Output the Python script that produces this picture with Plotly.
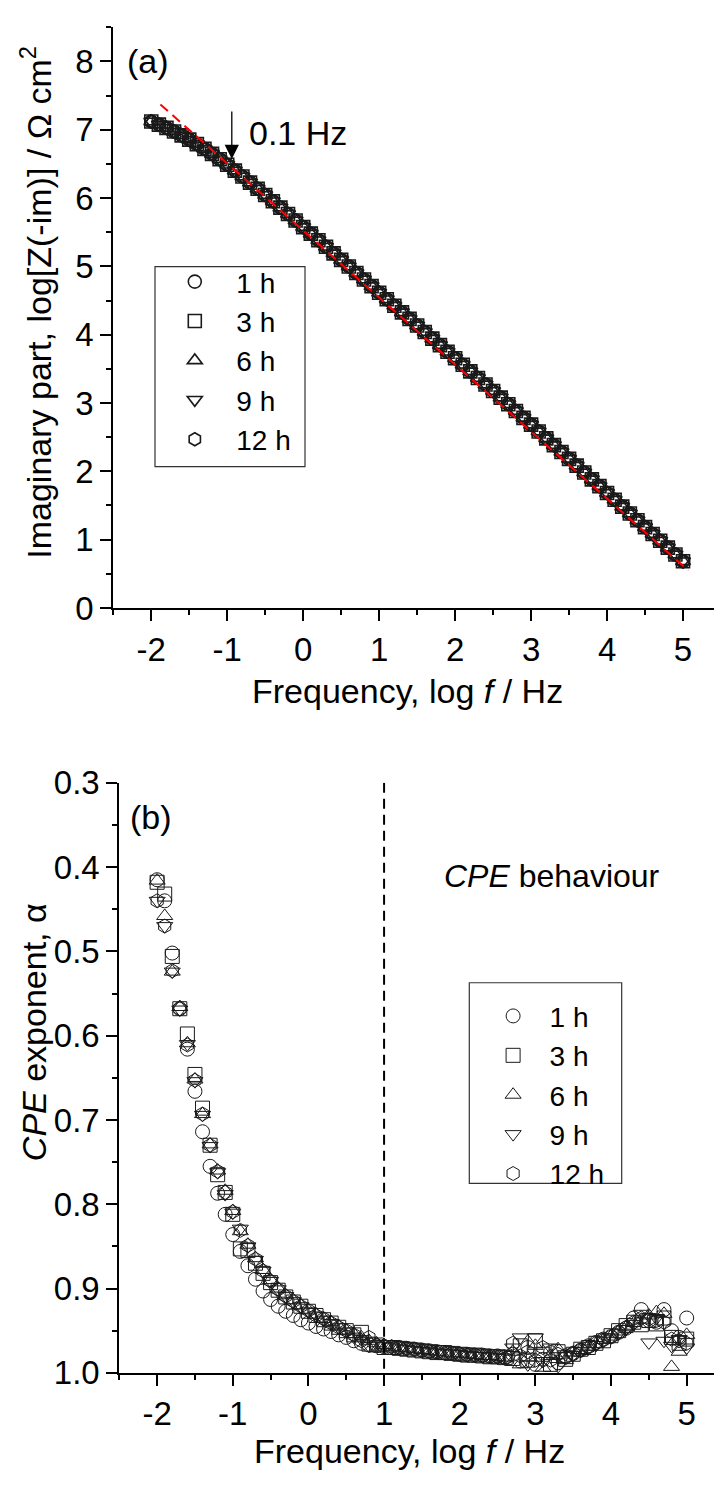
import plotly.graph_objects as go

W, H = 714, 1490

# ---------------- data ----------------
log_f = [-2.0, -1.9, -1.8, -1.7, -1.6, -1.5, -1.4, -1.3, -1.2, -1.1,
         -1.0, -0.9, -0.8, -0.7, -0.6, -0.5, -0.4, -0.3, -0.2, -0.1,
         0.0, 0.1, 0.2, 0.3, 0.4, 0.5, 0.6, 0.7, 0.8, 0.9,
         1.0, 1.1, 1.2, 1.3, 1.4, 1.5, 1.6, 1.7, 1.8, 1.9,
         2.0, 2.1, 2.2, 2.3, 2.4, 2.5, 2.6, 2.7, 2.8, 2.9,
         3.0, 3.1, 3.2, 3.3, 3.4, 3.5, 3.6, 3.7, 3.8, 3.9,
         4.0, 4.1, 4.2, 4.3, 4.4, 4.5, 4.6, 4.7, 4.8, 4.9, 5.0]

series_names = ["1 h", "3 h", "6 h", "9 h", "12 h"]

# panel (a): log|Z_im| (the five immersion times overlap)
log_zim_1h = [7.12, 7.075, 7.027, 6.974, 6.917, 6.856, 6.79, 6.72, 6.646, 6.568,
              6.487, 6.402, 6.315, 6.226, 6.136, 6.045, 5.953, 5.86, 5.766, 5.671,
              5.575, 5.479, 5.383, 5.287, 5.191, 5.095, 4.999, 4.903, 4.807, 4.711,
              4.615, 4.519, 4.423, 4.327, 4.231, 4.135, 4.039, 3.943, 3.847, 3.751,
              3.655, 3.559, 3.463, 3.367, 3.271, 3.175, 3.079, 2.983, 2.883, 2.783,
              2.683, 2.583, 2.483, 2.383, 2.283, 2.183, 2.083, 1.983, 1.883, 1.783,
              1.683, 1.583, 1.483, 1.383, 1.283, 1.183, 1.083, 0.983, 0.883, 0.783, 0.683]
log_zim_3h = list(log_zim_1h)
log_zim_6h = list(log_zim_1h)
log_zim_9h = list(log_zim_1h)
log_zim_12h = list(log_zim_1h)

# linear fit (red dashed) end points
fit_x = [-1.88, 5.07]
fit_y = [7.37, 0.55]

# panel (b): CPE exponent alpha
alpha_1h = [0.415, 0.440, 0.502, 0.568, 0.616, 0.666, 0.714, 0.755, 0.787, 0.812,
            0.836, 0.856, 0.873, 0.889, 0.903, 0.913, 0.921, 0.927, 0.932, 0.937,
            0.941, 0.945, 0.948, 0.951, 0.955, 0.958, 0.962, 0.965, 0.967, 0.968,
            0.969, 0.970, 0.970, 0.971, 0.972, 0.973, 0.974, 0.975, 0.976, 0.977,
            0.978, 0.978, 0.979, 0.979, 0.980, 0.980, 0.981, 0.978, 0.986, 0.970,
            0.990, 0.984, 0.976, 0.988, 0.980, 0.977, 0.973, 0.968, 0.964, 0.960,
            0.957, 0.952, 0.947, 0.935, 0.925, 0.938, 0.940, 0.925, 0.950, 0.958, 0.935]
alpha_3h = [0.418, 0.432, 0.506, 0.568, 0.598, 0.646, 0.686, 0.730, 0.765, 0.786,
            0.812, 0.853, 0.855, 0.870, 0.882, 0.893, 0.902, 0.910, 0.916, 0.921,
            0.927, 0.932, 0.937, 0.941, 0.946, 0.950, 0.955, 0.952, 0.966, 0.967,
            0.970, 0.970, 0.971, 0.972, 0.973, 0.974, 0.975, 0.976, 0.976, 0.977,
            0.978, 0.979, 0.979, 0.980, 0.981, 0.981, 0.982, 0.983, 0.968, 0.985,
            0.962, 0.978, 0.990, 0.975, 0.984, 0.978, 0.972, 0.970, 0.965, 0.962,
            0.956, 0.950, 0.944, 0.940, 0.943, 0.938, 0.942, 0.935, 0.958, 0.965, 0.960]
alpha_6h = [0.416, 0.458, 0.524, 0.566, 0.609, 0.652, 0.693, 0.729, 0.760, 0.784,
            0.808, 0.832, 0.848, 0.864, 0.878, 0.890, 0.900, 0.908, 0.914, 0.920,
            0.926, 0.931, 0.936, 0.940, 0.945, 0.950, 0.954, 0.958, 0.962, 0.965,
            0.967, 0.969, 0.970, 0.971, 0.972, 0.973, 0.974, 0.975, 0.976, 0.977,
            0.977, 0.978, 0.979, 0.980, 0.980, 0.981, 0.982, 0.975, 0.990, 0.982,
            0.968, 0.994, 0.980, 0.972, 0.985, 0.976, 0.973, 0.969, 0.966, 0.961,
            0.957, 0.951, 0.946, 0.941, 0.937, 0.932, 0.928, 0.930, 0.993, 0.975, 0.955]
alpha_9h = [0.440, 0.470, 0.524, 0.569, 0.610, 0.654, 0.694, 0.731, 0.762, 0.788,
            0.810, 0.829, 0.850, 0.866, 0.879, 0.891, 0.901, 0.909, 0.915, 0.921,
            0.927, 0.932, 0.937, 0.941, 0.946, 0.951, 0.957, 0.960, 0.968, 0.966,
            0.968, 0.969, 0.971, 0.972, 0.973, 0.974, 0.975, 0.976, 0.977, 0.977,
            0.978, 0.979, 0.980, 0.980, 0.981, 0.982, 0.982, 0.970, 0.958, 0.990,
            0.958, 0.986, 0.970, 0.992, 0.978, 0.979, 0.974, 0.971, 0.967, 0.962,
            0.958, 0.953, 0.948, 0.942, 0.930, 0.964, 0.935, 0.962, 0.968, 0.960, 0.970]
alpha_12h = [0.440, 0.470, 0.523, 0.568, 0.611, 0.653, 0.693, 0.730, 0.761, 0.786,
             0.809, 0.831, 0.849, 0.865, 0.879, 0.891, 0.901, 0.909, 0.915, 0.921,
             0.926, 0.932, 0.936, 0.941, 0.946, 0.950, 0.955, 0.962, 0.958, 0.967,
             0.968, 0.969, 0.970, 0.971, 0.972, 0.974, 0.975, 0.976, 0.977, 0.977,
             0.978, 0.979, 0.979, 0.980, 0.981, 0.981, 0.983, 0.965, 0.980, 0.975,
             0.985, 0.970, 0.985, 0.978, 0.982, 0.977, 0.973, 0.970, 0.965, 0.961,
             0.957, 0.952, 0.946, 0.940, 0.935, 0.936, 0.938, 0.940, 0.960, 0.962, 0.965]

# tick values / labels
x_tickvals = [-2, -1, 0, 1, 2, 3, 4, 5]
x_ticktext = ["-2", "-1", "0", "1", "2", "3", "4", "5"]
ya_tickvals = [0, 1, 2, 3, 4, 5, 6, 7, 8]
ya_ticktext = ["0", "1", "2", "3", "4", "5", "6", "7", "8"]
yb_tickvals = [0.3, 0.4, 0.5, 0.6, 0.7, 0.8, 0.9, 1.0]
yb_ticktext = ["0.3", "0.4", "0.5", "0.6", "0.7", "0.8", "0.9", "1.0"]

# ---------------- styling ----------------
FONT = "Liberation Sans, Arial, sans-serif"
symbols = ["circle-open", "square-open", "triangle-up-open", "triangle-down-open", "hexagon-open"]
MK = "#1a1a1a"

def px(xp):
    return xp / W

def py(yp):
    return 1 - yp / H

fig = go.Figure()

a_series = [log_zim_1h, log_zim_3h, log_zim_6h, log_zim_9h, log_zim_12h]
for name, sym, ys in zip(series_names, symbols, a_series):
    fig.add_trace(go.Scatter(
        x=log_f, y=ys, mode="markers", name=name, legend="legend",
        marker=dict(symbol=sym, size=13, color=MK, line=dict(color=MK, width=1.6)),
        xaxis="x", yaxis="y"))

fig.add_trace(go.Scatter(
    x=fit_x, y=fit_y, mode="lines", showlegend=False,
    line=dict(color="#ff0000", width=2, dash="10px,6px"),
    xaxis="x", yaxis="y"))

b_series = [alpha_1h, alpha_3h, alpha_6h, alpha_9h, alpha_12h]
for name, sym, ys in zip(series_names, symbols, b_series):
    fig.add_trace(go.Scatter(
        x=log_f, y=ys, mode="markers", name=name, legend="legend2",
        marker=dict(symbol=sym, size=14, color=MK, line=dict(color=MK, width=1)),
        xaxis="x2", yaxis="y2"))

tickfont = dict(family=FONT, size=33, color="black")

def xax(rng, dom, **kw):
    d = dict(range=rng, domain=dom, showline=True, linecolor="black", linewidth=2,
             ticks="outside", ticklen=11, tickwidth=2, tickcolor="black",
             tickmode="array", tickvals=x_tickvals, ticktext=x_ticktext,
             tickfont=tickfont, showgrid=False, zeroline=False,
             minor=dict(dtick=0.5, tick0=0, ticks="outside", ticklen=5, tickwidth=2,
                        tickcolor="black", showgrid=False))
    d.update(kw)
    return d

xa_rng = [-2.5, 5.408]
xb_rng = [-2.5, 5.361]
ya_dom = [py(605), py(9.5)]
yb_dom = [py(1389.3), py(784.3)]

fig.update_layout(
    width=W, height=H, margin=dict(l=0, r=0, t=0, b=0),
    paper_bgcolor="white", plot_bgcolor="white",
    font=dict(family=FONT, color="black"),
    xaxis=xax(xa_rng, [px(113.3), 1], anchor="y"),
    xaxis3=dict(overlaying="x", anchor="y", side="top", range=xa_rng,
                showline=True, linecolor="black", linewidth=2,
                ticks="inside", ticklen=11, tickwidth=2, tickcolor="black",
                tickmode="array", tickvals=x_tickvals, showticklabels=False,
                showgrid=False, zeroline=False,
                minor=dict(dtick=0.5, tick0=0, ticks="inside", ticklen=5, tickwidth=2,
                           tickcolor="black", showgrid=False)),
    yaxis=dict(range=[0, 8.5], domain=ya_dom, anchor="x", showline=True, linecolor="black",
               linewidth=2, ticks="outside", ticklen=11, tickwidth=2, tickcolor="black",
               tickmode="array", tickvals=ya_tickvals, ticktext=ya_ticktext,
               tickfont=tickfont, showgrid=False, zeroline=False,
               minor=dict(dtick=0.5, tick0=0, ticks="outside", ticklen=5, tickwidth=2,
                          tickcolor="black", showgrid=False)),
    yaxis3=dict(overlaying="y", anchor="x", side="right", range=[0, 8.5],
                showline=False, ticks="inside", ticklen=7, tickwidth=2, tickcolor="black",
                tickmode="array", tickvals=ya_tickvals, showticklabels=False,
                showgrid=False, zeroline=False,
                minor=dict(dtick=0.5, tick0=0, ticks="inside", ticklen=2, tickwidth=2,
                           tickcolor="black", showgrid=False)),
    xaxis2=xax(xb_rng, [px(119.3), 1], anchor="y2"),
    xaxis4=dict(overlaying="x2", anchor="y2", side="top", range=xb_rng,
                showline=True, linecolor="black", linewidth=2,
                ticks="inside", ticklen=11, tickwidth=2, tickcolor="black",
                tickmode="array", tickvals=x_tickvals, showticklabels=False,
                showgrid=False, zeroline=False,
                minor=dict(dtick=0.5, tick0=0, ticks="inside", ticklen=5, tickwidth=2,
                           tickcolor="black", showgrid=False)),
    yaxis2=dict(range=[1.0, 0.3], domain=yb_dom, anchor="x2", showline=True, linecolor="black",
                linewidth=2, ticks="outside", ticklen=11, tickwidth=2, tickcolor="black",
                tickmode="array", tickvals=yb_tickvals, ticktext=yb_ticktext,
                tickfont=tickfont, showgrid=False, zeroline=False,
                minor=dict(dtick=0.05, tick0=0, ticks="outside", ticklen=5, tickwidth=2,
                           tickcolor="black", showgrid=False)),
    yaxis4=dict(overlaying="y2", anchor="x2", side="right", range=[1.0, 0.3],
                showline=False, ticks="inside", ticklen=7, tickwidth=2, tickcolor="black",
                tickmode="array", tickvals=yb_tickvals, showticklabels=False,
                showgrid=False, zeroline=False,
                minor=dict(dtick=0.05, tick0=0, ticks="inside", ticklen=2, tickwidth=2,
                           tickcolor="black", showgrid=False)),
    legend=dict(x=px(153.3), y=py(245), xanchor="left", yanchor="top",
                bgcolor="rgba(0,0,0,0)", borderwidth=0, itemwidth=73, tracegroupgap=0,
                font=dict(family=FONT, size=28, color="black")),
    legend2=dict(x=px(476.6), y=py(998), xanchor="left", yanchor="top",
                 bgcolor="rgba(0,0,0,0)", borderwidth=0, itemwidth=63, tracegroupgap=0,
                 font=dict(family=FONT, size=28, color="black")),
    showlegend=True,
)

shapes = [
    # legend frames
    dict(type="rect", xref="paper", yref="paper", x0=px(155), x1=px(305), y0=py(460), y1=py(255),
         line=dict(color="#333333", width=1.2), fillcolor="rgba(0,0,0,0)", layer="above"),
    dict(type="rect", xref="paper", yref="paper", x0=px(469.3), x1=px(621.7), y0=py(1195), y1=py(989.3),
         line=dict(color="#333333", width=1.2), fillcolor="rgba(0,0,0,0)", layer="above"),
    # vertical dashed line at log f = 1 in panel (b)
    dict(type="line", xref="x2", yref="y2", x0=1, x1=1, y0=0.3, y1=1.0,
         line=dict(color="black", width=2, dash="10px,6px")),
]

annotations = [
    dict(text="(a)", x=px(148), y=py(44), xref="paper", yref="paper", showarrow=False,
         xanchor="center", yanchor="middle", font=dict(size=34)),
    dict(text="(b)", x=px(151), y=py(819), xref="paper", yref="paper", showarrow=False,
         xanchor="center", yanchor="middle", font=dict(size=34)),
    dict(text="0.1 Hz", x=px(247), y=py(118), xref="paper", yref="paper", showarrow=False,
         xanchor="left", yanchor="middle", font=dict(size=34)),
    dict(text="", x=-0.94, y=6.57, xref="x", yref="y", ax=-0.94, ay=7.29, axref="x", ayref="y",
         showarrow=True, arrowhead=2, arrowsize=2.2, arrowwidth=1.3, arrowcolor="black"),
    dict(text="<i>CPE</i> behaviour", x=px(552), y=py(880), xref="paper", yref="paper",
         showarrow=False, xanchor="center", yanchor="middle", font=dict(size=32)),
    dict(text="Imaginary part, log[Z(-im)] / Ω cm<sup>2</sup>", x=px(36), y=py(292),
         xref="paper", yref="paper", showarrow=False, textangle=-90,
         xanchor="center", yanchor="middle", font=dict(size=34)),
    dict(text="<i>CPE</i> exponent, α", x=px(34), y=py(1040), xref="paper", yref="paper",
         showarrow=False, textangle=-90, xanchor="center", yanchor="middle", font=dict(size=34)),
    dict(text="Frequency, log <i>f</i> / Hz", x=px(407), y=py(690), xref="paper", yref="paper",
         showarrow=False, xanchor="center", yanchor="middle", font=dict(size=34)),
    dict(text="Frequency, log <i>f</i> / Hz", x=px(410), y=py(1470), xref="paper", yref="paper",
         showarrow=False, xanchor="center", yanchor="middle", font=dict(size=34)),
]

fig.update_layout(shapes=shapes, annotations=annotations)

fig.write_html("out.html")
